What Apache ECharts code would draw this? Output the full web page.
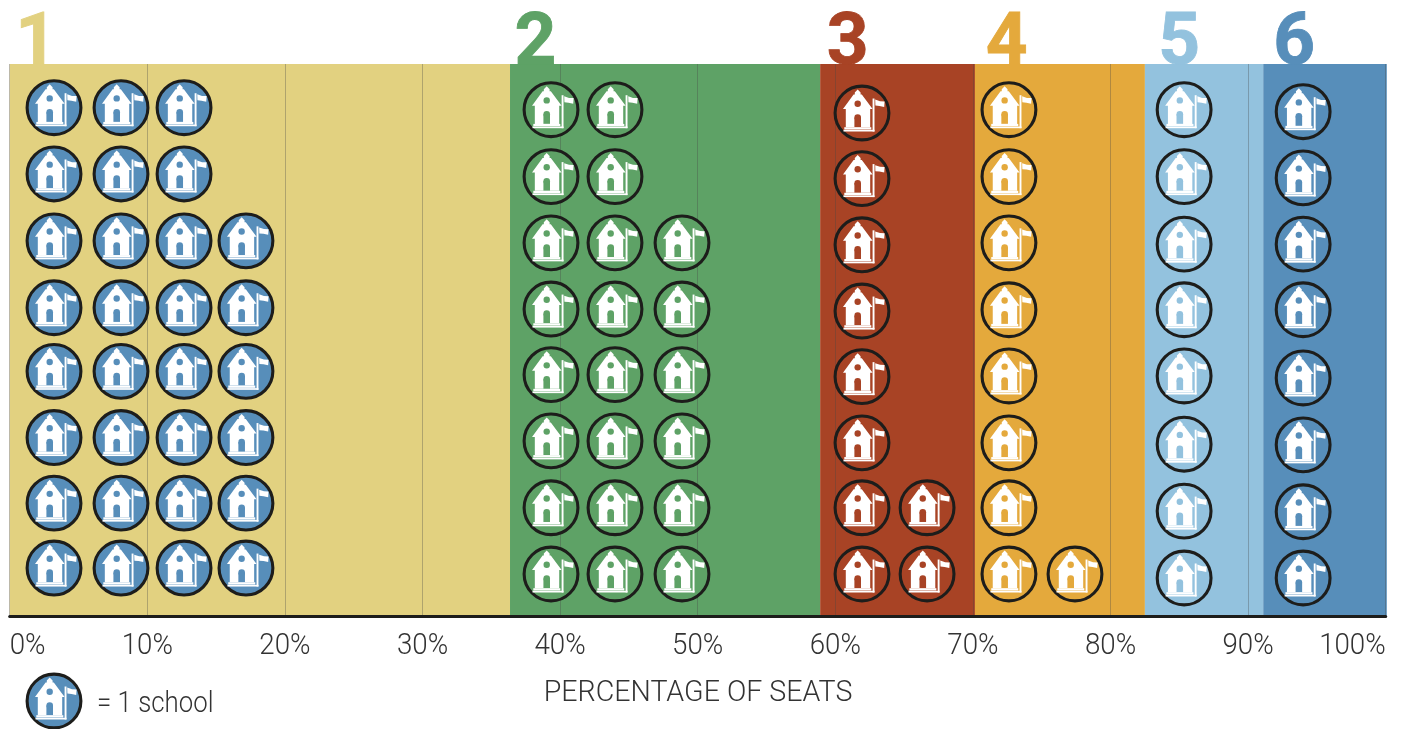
<!DOCTYPE html>
<html><head><meta charset="utf-8">
<style>html,body{margin:0;padding:0;background:#fff;overflow:hidden}#c{width:1401px;height:729px}</style>
<script src="https://cdn.jsdelivr.net/npm/echarts@6/dist/echarts.min.js"></script>
</head><body><div id="c"></div>
<script>
const bandLabels = ['1','2','3','4','5','6'];
const bandEdges = [0, 36.36, 58.9, 70.15, 82.5, 91.1, 100.08];
const bandColors = ['#e2d180','#5ea266','#a84325','#e4a93c','#93c2de','#578eba'];
const bandLabelX = [1.93, 38.2, 60.9, 72.45, 85.0, 93.35];
const tickValues = [0,10,20,30,40,50,60,70,80,90,100];
// Column positions (percentage of seats) of the schools in each band
const columnsX = [
  [3.22, 8.09, 12.67, 17.17],
  [39.34, 43.99, 48.86],
  [61.94, 66.67],
  [72.62, 77.42],
  [85.35],
  [94.0]
];
// Row positions, top row first
const rowsY = [
  [8.04,7.04,6.03,5.02,4.06,3.06,2.07,1.09],
  [8.01,7.0,6.0,5.0,4.01,3.01,2.0,1.0],
  [7.96,6.97,5.97,4.97,3.98,2.98,2.0,1.0],
  [8.01,7.0,6.0,4.99,3.99,2.98,2.0,1.0],
  [8.01,7.0,5.98,4.99,3.99,2.96,1.95,0.94],
  [7.98,6.98,5.98,4.99,3.96,2.95,1.94,0.94]
];
// Number of schools in each row, top row first
const rowCounts = [
  [3,3,4,4,4,4,4,4],
  [2,2,3,3,3,3,3,3],
  [1,1,1,1,1,1,2,2],
  [1,1,1,1,1,1,1,2],
  [1,1,1,1,1,1,1,1],
  [1,1,1,1,1,1,1,1]
];
const iconFill = ['#578eba','#5ea266','#a84325','#e4a93c','#93c2de','#578eba'];
const axisName = 'PERCENTAGE OF SEATS';
const legendText = '= 1 school';
const FONT = 'Roboto,"Liberation Sans",sans-serif';

function iconChildren(fill){
  const w = {fill:'#fff'};
  return [
    {type:'circle',shape:{cx:0,cy:0,r:26.9},style:{fill:fill,stroke:'#1d1d1b',lineWidth:3.1}},
    {type:'polygon',shape:{points:[[-4.3,-23.5],[-1.4,-20.5],[-1.4,-18.5],[-0.2,-18.5],[10.6,-4],[8.2,-4],[8.2,14.2],[-16.2,14.2],[-16.2,-4],[-19,-4],[-8.4,-18.5],[-7.2,-18.5],[-7.2,-20.5]]},style:w},
    {type:'circle',shape:{cx:-4.3,cy:-9.3,r:3.2},style:{fill:fill}},
    {type:'rect',shape:{x:-7.6,y:4.6,width:6.6,height:9.6},style:{fill:fill}},
    {type:'circle',shape:{cx:-4.3,cy:4.6,r:3.3},style:{fill:fill}},
    {type:'rect',shape:{x:-17.7,y:14.2,width:27,height:2.3},style:w},
    {type:'rect',shape:{x:-18.5,y:16.8,width:31,height:1.7},style:w},
    {type:'rect',shape:{x:10.6,y:-14.5,width:1.9,height:33},style:w},
    {type:'polygon',shape:{points:[[13.2,-13.4],[18,-11.8],[22.6,-11.6],[22.2,-6],[17.5,-7],[13.4,-7.4]]},style:w}
  ];
}

const schools = [];
columnsX.forEach((cols,b)=>{
  rowCounts[b].forEach((n,r)=>{
    for(let c=0;c<n;c++) schools.push([cols[c], rowsY[b][r], b]);
  });
});
const bands = bandLabels.map((l,i)=>[bandEdges[i],bandEdges[i+1],i]);
const labels = bandLabels.map((l,i)=>[bandLabelX[i],i]);
const ticks = tickValues.map(v=>[v]);

const chart = echarts.init(document.getElementById('c'),null,{renderer:'canvas'});
chart.setOption({
  animation:false,
  backgroundColor:'#fff',
  grid:{left:9.7,right:15.3,top:64,bottom:113,containLabel:false},
  xAxis:{type:'value',min:0,max:100,interval:10,z:3,
    axisLine:{show:true,onZero:false,lineStyle:{color:'#1d1d1b',width:3}},
    axisTick:{show:false},
    splitLine:{show:true,lineStyle:{color:'rgba(70,70,70,0.33)',width:1}},
    axisLabel:{show:false}
  },
  yAxis:{type:'value',min:0.366,max:8.70,show:false,splitLine:{show:false}},
  graphic:[
    {type:'group',x:54,y:701,children:iconChildren(iconFill[0])},
    {type:'text',x:97,y:705,scaleX:0.89,style:{text:legendText,fill:'#333',font:'300 29px '+FONT,textVerticalAlign:'middle'}},
    {type:'text',x:698,y:693,scaleX:0.953,style:{text:axisName,fill:'#333',font:'300 30px '+FONT,textAlign:'center',textVerticalAlign:'middle'}}
  ],
  series:[
    {type:'custom',z:1,clip:false,silent:true,data:bands,encode:{x:[0,1]},
      renderItem(p,api){
        const a=api.coord([api.value(0),8.70]), b=api.coord([api.value(1),0.366]);
        return {type:'rect',shape:{x:a[0],y:a[1],width:b[0]-a[0],height:b[1]-a[1]},style:{fill:bandColors[api.value(2)]}};
      }},
    {type:'custom',z:6,clip:false,silent:true,data:labels,encode:{x:0},
      renderItem(p,api){
        const a=api.coord([api.value(0),8.70]), i=api.value(1);
        return {type:'text',x:a[0],y:a[1]+18,style:{text:bandLabels[i],fill:bandColors[i],stroke:bandColors[i],lineWidth:0.8,
          font:'bold 73px Roboto,"Liberation Sans",sans-serif',textAlign:'center',textVerticalAlign:'bottom'}};
      }},
    {type:'custom',z:5,clip:false,silent:true,data:schools,encode:{x:0,y:1},
      renderItem(p,api){
        const a=api.coord([api.value(0),api.value(1)]);
        return {type:'group',x:a[0],y:a[1],children:iconChildren(iconFill[api.value(2)])};
      }},
    {type:'custom',z:4,clip:false,silent:true,data:ticks,encode:{x:0},
      renderItem(p,api){
        const v=api.value(0), a=api.coord([v,0.366]);
        const align=v===0?'left':(v===100?'right':'center');
        return {type:'text',x:a[0],y:a[1]+31,scaleX:0.955,style:{text:v+'%',fill:'#333',font:'300 29px '+FONT,textAlign:align,textVerticalAlign:'middle'}};
      }}
  ]
});
</script></body></html>
